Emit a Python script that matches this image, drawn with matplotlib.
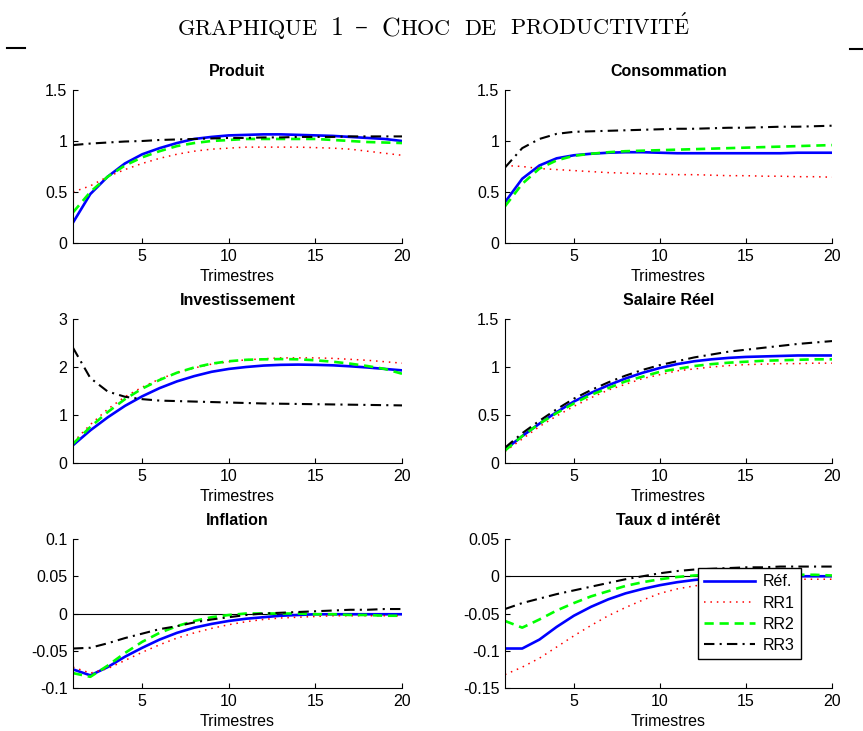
import numpy as np
import matplotlib
matplotlib.use("Agg")
from matplotlib import pyplot as plt
from matplotlib.lines import Line2D
from matplotlib.text import Annotation
from matplotlib.ticker import FormatStrFormatter

plt.rcParams["font.family"] = ["Liberation Sans", "DejaVu Sans"]
plt.rcParams["mathtext.fontset"] = "cm"

trimestres = list(range(1, 21))
series_labels = ["Réf.", "RR1", "RR2", "RR3"]

# impulse responses, order: Réf., RR1, RR2, RR3
produit_ref = [0.20, 0.48, 0.65, 0.78, 0.87, 0.93, 0.98, 1.02, 1.04, 1.055,
               1.06, 1.065, 1.065, 1.06, 1.055, 1.05, 1.04, 1.03, 1.02, 1.00]
produit_rr1 = [0.50, 0.56, 0.65, 0.72, 0.78, 0.83, 0.87, 0.90, 0.92, 0.93,
               0.94, 0.94, 0.94, 0.94, 0.935, 0.93, 0.92, 0.90, 0.88, 0.86]
produit_rr2 = [0.30, 0.50, 0.65, 0.76, 0.84, 0.90, 0.95, 0.98, 1.00, 1.01,
               1.02, 1.02, 1.02, 1.02, 1.02, 1.01, 1.00, 0.99, 0.985, 0.98]
produit_rr3 = [0.96, 0.975, 0.985, 0.995, 1.00, 1.01, 1.015, 1.02, 1.025, 1.03,
               1.03, 1.035, 1.035, 1.04, 1.04, 1.04, 1.045, 1.045, 1.045, 1.045]

conso_ref = [0.40, 0.63, 0.76, 0.83, 0.86, 0.875, 0.885, 0.89, 0.89, 0.885,
             0.88, 0.88, 0.88, 0.88, 0.88, 0.88, 0.88, 0.885, 0.885, 0.885]
conso_rr1 = [0.76, 0.75, 0.73, 0.72, 0.71, 0.70, 0.69, 0.685, 0.68, 0.675,
             0.67, 0.67, 0.665, 0.66, 0.66, 0.655, 0.655, 0.65, 0.65, 0.645]
conso_rr2 = [0.36, 0.58, 0.73, 0.81, 0.855, 0.875, 0.89, 0.90, 0.905, 0.91,
             0.915, 0.92, 0.925, 0.93, 0.935, 0.94, 0.945, 0.95, 0.955, 0.96]
conso_rr3 = [0.74, 0.93, 1.02, 1.07, 1.09, 1.095, 1.10, 1.105, 1.11, 1.115,
             1.12, 1.12, 1.125, 1.13, 1.13, 1.135, 1.14, 1.14, 1.145, 1.15]

invest_ref = [0.37, 0.68, 0.95, 1.19, 1.39, 1.56, 1.70, 1.81, 1.90, 1.96,
              2.00, 2.03, 2.045, 2.05, 2.045, 2.035, 2.015, 1.99, 1.96, 1.93]
invest_rr1 = [0.43, 0.80, 1.12, 1.38, 1.58, 1.75, 1.88, 1.98, 2.06, 2.11,
              2.15, 2.17, 2.19, 2.19, 2.19, 2.18, 2.16, 2.14, 2.11, 2.08]
invest_rr2 = [0.40, 0.75, 1.06, 1.33, 1.55, 1.73, 1.88, 1.99, 2.07, 2.12,
              2.15, 2.16, 2.165, 2.16, 2.14, 2.11, 2.07, 2.02, 1.96, 1.86]
invest_rr3 = [2.40, 1.77, 1.49, 1.38, 1.33, 1.30, 1.29, 1.28, 1.27, 1.26,
              1.25, 1.24, 1.235, 1.23, 1.225, 1.22, 1.215, 1.21, 1.205, 1.20]

salaire_ref = [0.14, 0.28, 0.41, 0.53, 0.64, 0.73, 0.81, 0.88, 0.94, 0.99,
               1.03, 1.06, 1.08, 1.095, 1.105, 1.11, 1.115, 1.12, 1.12, 1.12]
salaire_rr1 = [0.12, 0.25, 0.38, 0.49, 0.59, 0.68, 0.76, 0.82, 0.88, 0.92,
               0.96, 0.98, 1.00, 1.015, 1.025, 1.03, 1.035, 1.035, 1.04, 1.04]
salaire_rr2 = [0.13, 0.28, 0.41, 0.52, 0.62, 0.71, 0.78, 0.85, 0.90, 0.95,
               0.98, 1.01, 1.03, 1.045, 1.055, 1.065, 1.07, 1.075, 1.08, 1.08]
salaire_rr3 = [0.16, 0.31, 0.44, 0.56, 0.67, 0.76, 0.84, 0.91, 0.97, 1.02,
               1.06, 1.10, 1.13, 1.16, 1.18, 1.20, 1.22, 1.24, 1.255, 1.27]

inflation_ref = [-0.075, -0.083, -0.072, -0.058, -0.046, -0.035, -0.026, -0.019, -0.014, -0.010,
                 -0.007, -0.005, -0.003, -0.002, -0.001, -0.001, -0.001, -0.001, -0.001, -0.001]
inflation_rr1 = [-0.072, -0.080, -0.074, -0.063, -0.052, -0.042, -0.033, -0.026, -0.020, -0.015,
                 -0.011, -0.008, -0.006, -0.005, -0.004, -0.003, -0.003, -0.003, -0.003, -0.003]
inflation_rr2 = [-0.080, -0.085, -0.070, -0.053, -0.038, -0.026, -0.017, -0.010, -0.005, -0.002,
                 0.000, 0.000, 0.000, 0.000, -0.001, -0.001, -0.002, -0.002, -0.003, -0.003]
inflation_rr3 = [-0.047, -0.046, -0.040, -0.033, -0.027, -0.021, -0.017, -0.012, -0.008, -0.005,
                 -0.002, 0.000, 0.001, 0.002, 0.003, 0.004, 0.005, 0.005, 0.006, 0.006]

taux_ref = [-0.097, -0.097, -0.085, -0.068, -0.053, -0.041, -0.031, -0.023, -0.017, -0.012,
            -0.008, -0.005, -0.003, -0.002, -0.001, 0.000, 0.000, 0.000, 0.000, 0.000]
taux_rr1 = [-0.132, -0.122, -0.110, -0.095, -0.080, -0.066, -0.053, -0.042, -0.032, -0.023,
            -0.017, -0.013, -0.010, -0.008, -0.006, -0.005, -0.004, -0.004, -0.004, -0.004]
taux_rr2 = [-0.060, -0.069, -0.058, -0.046, -0.036, -0.027, -0.020, -0.013, -0.008, -0.004,
            -0.001, 0.001, 0.002, 0.003, 0.003, 0.003, 0.003, 0.002, 0.002, 0.001]
taux_rr3 = [-0.044, -0.036, -0.030, -0.024, -0.019, -0.014, -0.009, -0.004, 0.000, 0.004,
            0.007, 0.009, 0.010, 0.011, 0.012, 0.012, 0.013, 0.013, 0.013, 0.013]

panels = [
    ("Produit", [produit_ref, produit_rr1, produit_rr2, produit_rr3], [0, 0.5, 1, 1.5]),
    ("Consommation", [conso_ref, conso_rr1, conso_rr2, conso_rr3], [0, 0.5, 1, 1.5]),
    ("Investissement", [invest_ref, invest_rr1, invest_rr2, invest_rr3], [0, 1, 2, 3]),
    ("Salaire Réel", [salaire_ref, salaire_rr1, salaire_rr2, salaire_rr3], [0, 0.5, 1, 1.5]),
    ("Inflation", [inflation_ref, inflation_rr1, inflation_rr2, inflation_rr3],
     [-0.1, -0.05, 0, 0.05, 0.1]),
    ("Taux d intérêt", [taux_ref, taux_rr1, taux_rr2, taux_rr3],
     [-0.15, -0.1, -0.05, 0, 0.05]),
]

styles = [
    dict(color="#0000ff", linestyle="-", linewidth=1.9),
    dict(color="#ff0000", linestyle=(0, (1, 3.2)), linewidth=1.1),
    dict(color="#00ff00", linestyle=(0, (3.5, 2.2)), linewidth=1.9),
    dict(color="black", linestyle=(0, (5, 2.5, 1, 2.5)), linewidth=1.5),
]

W, H = 863, 731
fig = plt.figure(figsize=(W / 100, H / 100), dpi=100)

# axes boxes in pixels: left, right / top, bottom
cols = [(73, 402), (505, 832)]
rows = [(90, 243), (319, 463), (539, 688)]

for i, (name, data, yticks) in enumerate(panels):
    x0, x1 = cols[i % 2]
    y0, y1 = rows[i // 2]
    ax = fig.add_axes([x0 / W, (H - y1) / H, (x1 - x0) / W, (y1 - y0) / H])
    if i >= 4:
        ax.axhline(0, color="black", linewidth=0.8, zorder=1)
    for vals, st, lab in zip(data, styles, series_labels):
        ax.plot(trimestres, vals, label=lab, zorder=2, **st)
    ax.set_xlim(1, 20)
    ax.set_ylim(yticks[0], yticks[-1])
    ax.set_xticks([5, 10, 15, 20])
    ax.set_yticks(yticks)
    ax.yaxis.set_major_formatter(FormatStrFormatter("%g"))
    for s in ["top", "right"]:
        ax.spines[s].set_visible(False)
    for s in ["left", "bottom"]:
        ax.spines[s].set_linewidth(0.8)
    ax.tick_params(direction="in", length=3.5, width=0.8, labelsize=11.5, pad=4)
    ax.set_title(name, fontsize=11.5, fontweight="bold", pad=10)
    ax.set_xlabel("Trimestres", fontsize=11.5, labelpad=4)
    if i == 5:
        leg = ax.legend(loc="upper left", bbox_to_anchor=(0.589, 0.805),
                        borderaxespad=0, fancybox=False, framealpha=1,
                        edgecolor="black", fontsize=11.5, handlelength=3.2,
                        labelspacing=0.38, handletextpad=0.5, borderpad=0.4)
        leg.get_frame().set_linewidth(1.0)
        leg.set_zorder(5)

# figure title in small caps (Computer Modern via mathtext), built from pieces
big, small = 18.5, 16
pieces = [(r"$\mathrm{GRAPHIQUE}$", small, 0), (r"$1$", big, 9),
          ("\u2013", big, 9), (r"$\mathrm{C}$", big, 9),
          (r"$\mathrm{HOC}$", small, 0), (r"$\mathrm{DE}$", small, 9.5),
          (r"$\mathrm{PRODUCTIVIT\acute{E}}$", small, 9)]
base_y = H - 35
first = fig.text(166 / W, base_y / H, pieces[0][0], fontsize=pieces[0][1],
                 ha="left", va="baseline")
last = first
title_parts = [first]
for txt, size, gap in pieces[1:]:
    ann = Annotation(txt, xy=(1, base_y), xycoords=(last, "figure pixels"),
                     xytext=(gap, 0), textcoords="offset points",
                     fontsize=size, ha="left", va="baseline",
                     family=["DejaVu Serif"] if txt == "\u2013" else None)
    fig.add_artist(ann)
    title_parts.append(ann)
    last = ann

# centre the whole title around the reference centre
fig.canvas.draw()
r = fig.canvas.get_renderer()
left = title_parts[0].get_window_extent(r).x0
right = title_parts[-1].get_window_extent(r).x1
shift = 433 - (left + right) / 2
first.set_x((166 + shift) / W)

fig.add_artist(Line2D([7 / W, 25 / W], [(H - 48) / H] * 2, color="black", linewidth=1.5))
fig.add_artist(Line2D([850 / W, 1.0], [(H - 49) / H] * 2, color="black", linewidth=1.5))

fig.savefig("out.png", dpi=100)
